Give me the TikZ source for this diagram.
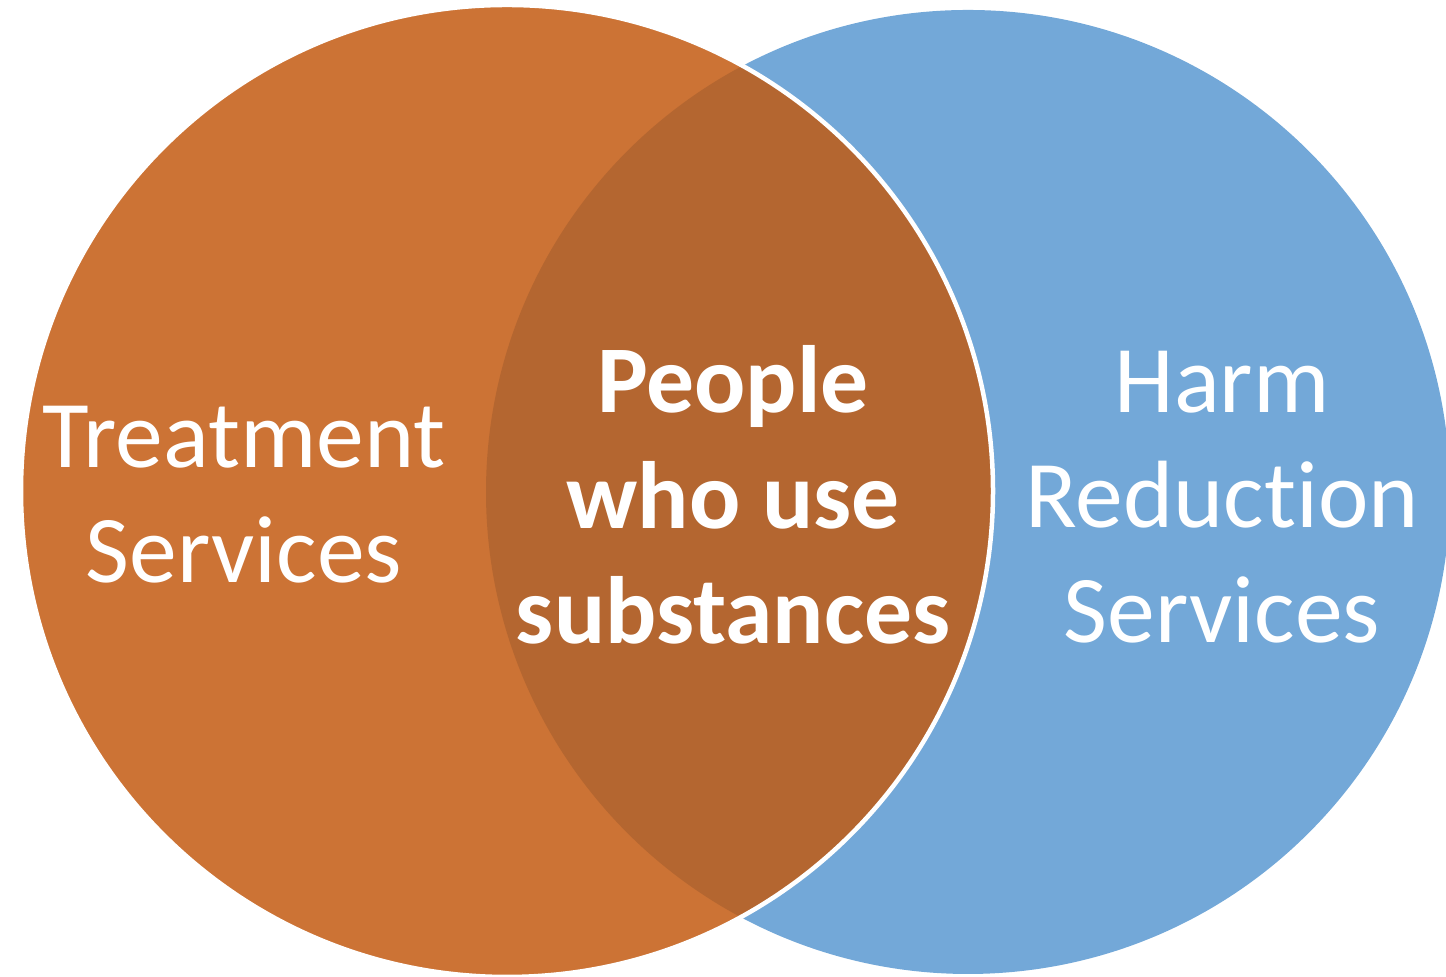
\documentclass[tikz,border=0pt]{standalone}
\usepackage{fontspec}
\setmainfont{Carlito}[Ligatures=CommonOff]
\definecolor{treatorange}{HTML}{CC7335}
\definecolor{harmblue}{HTML}{73A8D8}
\definecolor{overlapbrown}{HTML}{B46630}
\begin{document}
\begin{tikzpicture}
    [
    setlabel/.style={
        text=white,
        align=center,
        font=\fontsize{27.2}{32.8}\selectfont
    },
    corelabel/.style={setlabel, font=\fontsize{27.2}{32.8}\selectfont\bfseries}
    ]

    \useasboundingbox (0,0) rectangle (14.46,9.77);
    \clip (0,0) rectangle (14.46,9.77);

% Circles
    \fill[harmblue] (9.68,4.85) circle (4.82);
    \fill[treatorange] (5.07,4.86) circle (4.86);
    \begin{scope}
        \clip (5.07,4.86) circle (4.86);
        \fill[overlapbrown] (9.68,4.85) circle (4.82);
    \end{scope}
    \draw[white, line width=0.045cm] (5.07,4.86) circle (4.86);

% Labels
    \node[setlabel] (treat) at (2.44,4.82) {Treatment\\Services};
    \node[corelabel] (people) at (7.33,4.82) {People\\who use\\substances};
    \node[setlabel] (harm) at (12.22,4.80) {Harm\\Reduction\\Services};

\end{tikzpicture}
\end{document}
